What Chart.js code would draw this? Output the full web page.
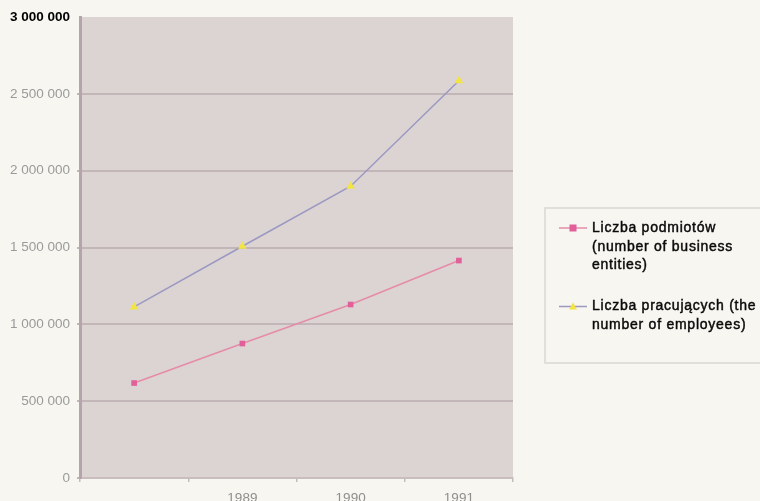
<!DOCTYPE html>
<html>
<head>
<meta charset="utf-8">
<script src="https://cdn.jsdelivr.net/npm/chart.js@4/dist/chart.umd.min.js"></script>
<style>
  html, body { margin: 0; padding: 0; background: #f7f6f1; }
  #wrap { width: 760px; height: 501px; position: relative; }
</style>
</head>
<body>
<div id="wrap"><canvas id="c" width="760" height="501"></canvas></div>
<script>
// Years on the horizontal axis (the first one carries no label)
const categories = ['', '1989', '1990', '1991'];
// Number of business entities
const entities = [618000, 875000, 1129000, 1415000];
// Number of employees
const employees = [1113000, 1508000, 1899000, 2585000];
// Legend text, one array per series, already split into lines
const entitiesLegend = ['Liczba podmiotów', '(number of business', 'entities)'];
const employeesLegend = ['Liczba pracujących (the', 'number of employees)'];
// Value axis range
const yMin = 0;
const yMax = 3000000;
const yStep = 500000;

const FONT = '"Liberation Sans", Arial, sans-serif';

function spaced(v) {
  return String(v).replace(/\B(?=(\d{3})+(?!\d))/g, ' ');
}

// Grey plot background behind the gridlines
const plotBg = {
  id: 'plotBg',
  beforeDraw(chart) {
    const { ctx, chartArea: a } = chart;
    ctx.save();
    ctx.fillStyle = '#dbd4d3';
    ctx.fillRect(a.left, a.top, a.right - a.left, a.bottom - a.top);
    ctx.restore();
  }
};

// Boxed legend at the right with wrapped labels
const boxLegend = {
  id: 'boxLegend',
  afterDraw(chart) {
    const { ctx } = chart;
    const bx = 545, by = 208, bw = 240, bh = 155;
    ctx.save();
    ctx.strokeStyle = '#d9d8d0';
    ctx.lineWidth = 1.5;
    ctx.strokeRect(bx, by, bw, bh);
    const lineH = 18.7;
    const starts = [228, 306.5];
    chart.data.datasets.forEach((ds, i) => {
      const y0 = starts[i];
      ctx.strokeStyle = ds.borderColor;
      ctx.lineWidth = 1.5;
      ctx.beginPath();
      ctx.moveTo(559, y0);
      ctx.lineTo(587, y0);
      ctx.stroke();
      ctx.fillStyle = ds.pointBackgroundColor;
      if (ds.pointStyle === 'rect') {
        ctx.fillRect(573 - 3.5, y0 - 3.5, 7, 7);
      } else {
        ctx.beginPath();
        ctx.moveTo(573, y0 - 4);
        ctx.lineTo(577, y0 + 3);
        ctx.lineTo(569, y0 + 3);
        ctx.closePath();
        ctx.fill();
      }
      ctx.fillStyle = '#0a0a0a';
      ctx.strokeStyle = '#0a0a0a';
      ctx.lineWidth = 0.45;
      ctx.font = '14px ' + FONT;
      if ('letterSpacing' in ctx) ctx.letterSpacing = '0.75px';
      ctx.textBaseline = 'middle';
      ctx.textAlign = 'left';
      ds.legendLines.forEach((t, k) => {
        ctx.fillText(t, 592, y0 + k * lineH);
        ctx.strokeText(t, 592, y0 + k * lineH);
      });
    });
    ctx.restore();
  }
};

new Chart(document.getElementById('c'), {
  type: 'line',
  data: {
    labels: categories,
    datasets: [
      {
        label: entitiesLegend.join(' '),
        legendLines: entitiesLegend,
        data: entities,
        borderColor: '#e68ba8',
        borderWidth: 1.5,
        pointStyle: 'rect',
        pointRadius: 4,
        pointBackgroundColor: '#e2609a',
        pointBorderWidth: 0,
        tension: 0
      },
      {
        label: employeesLegend.join(' '),
        legendLines: employeesLegend,
        data: employees,
        borderColor: '#9c98c2',
        borderWidth: 1.5,
        pointStyle: 'triangle',
        pointRadius: 5,
        pointBackgroundColor: '#f2e444',
        pointBorderWidth: 0,
        tension: 0
      }
    ]
  },
  options: {
    responsive: false,
    animation: false,
    devicePixelRatio: 1,
    layout: { padding: { left: 0, top: 17, right: 247, bottom: 0 } },
    plugins: {
      legend: { display: false },
      tooltip: { enabled: false }
    },
    scales: {
      x: {
        offset: true,
        afterFit(s) { s.height = 23; },
        grid: {
          offset: true,
          drawOnChartArea: false,
          drawTicks: true,
          tickLength: 4,
          color: '#c6babc',
          lineWidth: 1.5
        },
        border: { color: '#c9bdbf', width: 2 },
        ticks: {
          color: '#8f8f8f',
          padding: 8,
          maxRotation: 0,
          font: { family: FONT, size: 13.5 }
        }
      },
      y: {
        min: yMin,
        max: yMax,
        afterFit(s) { s.width = 80; },
        grid: {
          color: (c) => c.tick && c.tick.value === yMax ? 'rgba(0,0,0,0)' : '#c3b6b8',
          lineWidth: 2,
          tickLength: 3,
          drawTicks: true
        },
        border: { color: '#b4a4ad', width: 3 },
        ticks: {
          stepSize: yStep,
          padding: 7,
          callback: (v) => spaced(v),
          color: (c) => c.tick && c.tick.value === yMax ? '#000' : '#9a9a9a',
          font: (c) => ({
            family: FONT,
            size: 13.5,
            weight: c.tick && c.tick.value === yMax ? 'bold' : 'normal'
          })
        }
      }
    }
  },
  plugins: [plotBg, boxLegend]
});
</script>
</body>
</html>
